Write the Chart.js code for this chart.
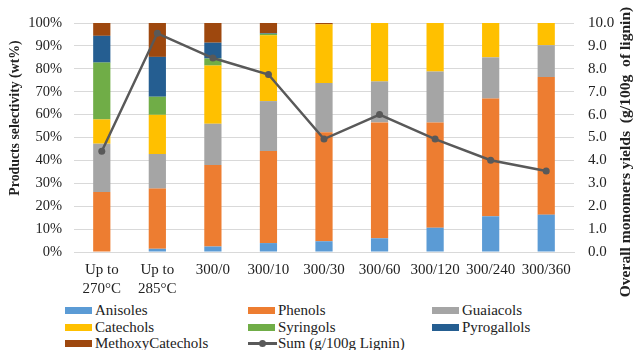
<!DOCTYPE html>
<html>
<head>
<meta charset="utf-8">
<script src="https://cdn.jsdelivr.net/npm/chart.js@4/dist/chart.umd.min.js"></script>
<style>
  html, body { margin: 0; padding: 0; background: #fff; }
  #wrap { position: relative; width: 634px; height: 350px; }
  #c { position: absolute; left: 0; top: 0; }
  #legend { position: absolute; left: 0; top: 302px; width: 634px; height: 48px;
            font-family: "Liberation Serif", "Times New Roman", serif; font-size: 15px; color: #222; }
  .item { position: absolute; height: 16px; line-height: 16px; white-space: nowrap; }
  .sw { position: absolute; left: 0; top: 5px; width: 27px; height: 7px; }
  .ln { position: absolute; left: 0; top: 7px; width: 29px; height: 2.5px; background: #595959; }
  .dot { position: absolute; left: 11px; top: 5px; width: 7px; height: 7px; border-radius: 50%; background: #595959; }
  .txt { position: absolute; left: 30px; top: 0; }
</style>
</head>
<body>
<div id="wrap">
  <canvas id="c" width="634" height="300"></canvas>
  <div id="legend"></div>
</div>
<script>
// Reaction conditions (temperature °C / holding time min)
const categories = [["Up to", "270°C"], ["Up to", "285°C"], "300/0", "300/10", "300/30", "300/60", "300/120", "300/240", "300/360"];

// Product selectivity by monomer family, wt%
const anisoles        = [0.0, 1.4, 2.4, 3.9, 4.7, 6.0, 10.6, 15.6, 16.3];
const phenols         = [26.2, 26.3, 35.6, 40.2, 47.6, 50.6, 46.0, 51.4, 60.1];
const guaiacols       = [21.1, 15.1, 18.0, 21.8, 21.5, 17.9, 22.2, 18.0, 13.9];
const catechols       = [10.6, 17.1, 25.4, 28.7, 25.6, 25.5, 21.2, 15.0, 9.7];
const syringols       = [24.8, 7.9, 3.1, 0.7, 0.0, 0.0, 0.0, 0.0, 0.0];
const pyrogallols     = [11.7, 17.4, 6.9, 0.3, 0.0, 0.0, 0.0, 0.0, 0.0];
const methoxyCatechols= [5.6, 14.8, 8.6, 4.4, 0.6, 0.0, 0.0, 0.0, 0.0];

// Overall monomer yield, g per 100 g lignin
const sumYield = [4.40, 9.55, 8.47, 7.75, 4.93, 6.00, 4.93, 4.01, 3.54];

// Axis tick values
const leftTicks  = [0, 10, 20, 30, 40, 50, 60, 70, 80, 90, 100];
const rightTicks = [0, 1, 2, 3, 4, 5, 6, 7, 8, 9, 10];

const leftTitle  = "Products selectivity (wt%)";
const rightTitle = "Overall monomers yields  (g/100g  of lignin)";

const serif = '"Liberation Serif", "Times New Roman", serif';

const barSeries = [
  { label: "Anisoles", data: anisoles, color: "#5B9BD5" },
  { label: "Phenols", data: phenols, color: "#ED7D31" },
  { label: "Guaiacols", data: guaiacols, color: "#A5A5A5" },
  { label: "Catechols", data: catechols, color: "#FFC000" },
  { label: "Syringols", data: syringols, color: "#70AD47" },
  { label: "Pyrogallols", data: pyrogallols, color: "#255E91" },
  { label: "MethoxyCatechols", data: methoxyCatechols, color: "#9E480E" }
];

const datasets = barSeries.map(s => ({
  type: "bar",
  label: s.label,
  data: s.data,
  backgroundColor: s.color,
  borderWidth: 0,
  yAxisID: "y",
  stack: "sel",
  order: 1,
  barPercentage: 0.31,
  categoryPercentage: 1.0
}));

datasets.push({
  type: "line",
  label: "Sum (g/100g Lignin)",
  data: sumYield,
  borderColor: "#595959",
  backgroundColor: "#595959",
  borderWidth: 2.5,
  pointRadius: 3.5,
  pointHoverRadius: 3.5,
  pointBackgroundColor: "#595959",
  pointBorderWidth: 0,
  tension: 0,
  yAxisID: "y2",
  order: 0
});

// Rotated axis titles, placed beside the tick labels
const axisTitles = {
  id: "axisTitles",
  afterDraw(chart) {
    const ctx = chart.ctx;
    ctx.save();
    ctx.fillStyle = "#222";
    ctx.textAlign = "center";
    ctx.textBaseline = "middle";
    ctx.font = "bold 13.8px " + serif;
    ctx.save();
    ctx.translate(15, 118);
    ctx.rotate(-Math.PI / 2);
    ctx.fillText(leftTitle, 0, 0);
    ctx.restore();
    ctx.font = "bold 15.6px " + serif;
    ctx.save();
    ctx.translate(626, 152);
    ctx.rotate(-Math.PI / 2);
    ctx.fillText(rightTitle, 0, 0);
    ctx.restore();
    ctx.restore();
  }
};

new Chart(document.getElementById("c"), {
  type: "bar",
  data: { labels: categories, datasets: datasets },
  plugins: [axisTitles],
  options: {
    responsive: false,
    animation: false,
    layout: { padding: { top: 10, bottom: 0, left: 0, right: 0 } },
    plugins: { legend: { display: false }, tooltip: { enabled: false } },
    scales: {
      x: {
        stacked: true,
        grid: { display: false, drawTicks: false },
        border: { display: true, color: "#D9D9D9", width: 1 },
        ticks: { font: { family: serif, size: 15, lineHeight: 1.25 }, color: "#222", padding: 9, maxRotation: 0, autoSkip: false },
        afterFit: s => { s.height = 48; }
      },
      y: {
        position: "left",
        stacked: true,
        min: 0, max: 100,
        afterBuildTicks: s => { s.ticks = leftTicks.map(v => ({ value: v })); },
        ticks: { font: { family: serif, size: 14.5 }, color: "#222", padding: 12, callback: v => v + "%" },
        grid: { color: "#D9D9D9", drawTicks: false },
        border: { display: false },
        afterFit: s => { s.width = 74; }
      },
      y2: {
        position: "right",
        stacked: false,
        min: 0, max: 10,
        afterBuildTicks: s => { s.ticks = rightTicks.map(v => ({ value: v })); },
        ticks: { font: { family: serif, size: 15 }, color: "#222", padding: 14, callback: v => Number(v).toFixed(1) },
        grid: { display: false, drawTicks: false },
        border: { display: false },
        afterFit: s => { s.width = 60; }
      }
    }
  }
});

// Three-column legend under the chart
const legendItems = barSeries.map(s => ({ label: s.label, color: s.color, line: false }))
  .concat([{ label: "Sum (g/100g Lignin)", color: "#595959", line: true }]);
const colX = [65, 248, 432];
const legend = document.getElementById("legend");
legendItems.forEach((it, i) => {
  const el = document.createElement("div");
  el.className = "item";
  el.style.left = colX[i % 3] + "px";
  el.style.top = (Math.floor(i / 3) * 16.5) + "px";
  if (it.line) {
    el.innerHTML = '<span class="ln"></span><span class="dot"></span>';
  } else {
    el.innerHTML = '<span class="sw" style="background:' + it.color + '"></span>';
  }
  const t = document.createElement("span");
  t.className = "txt";
  t.textContent = it.label;
  el.appendChild(t);
  legend.appendChild(el);
});
</script>
</body>
</html>
